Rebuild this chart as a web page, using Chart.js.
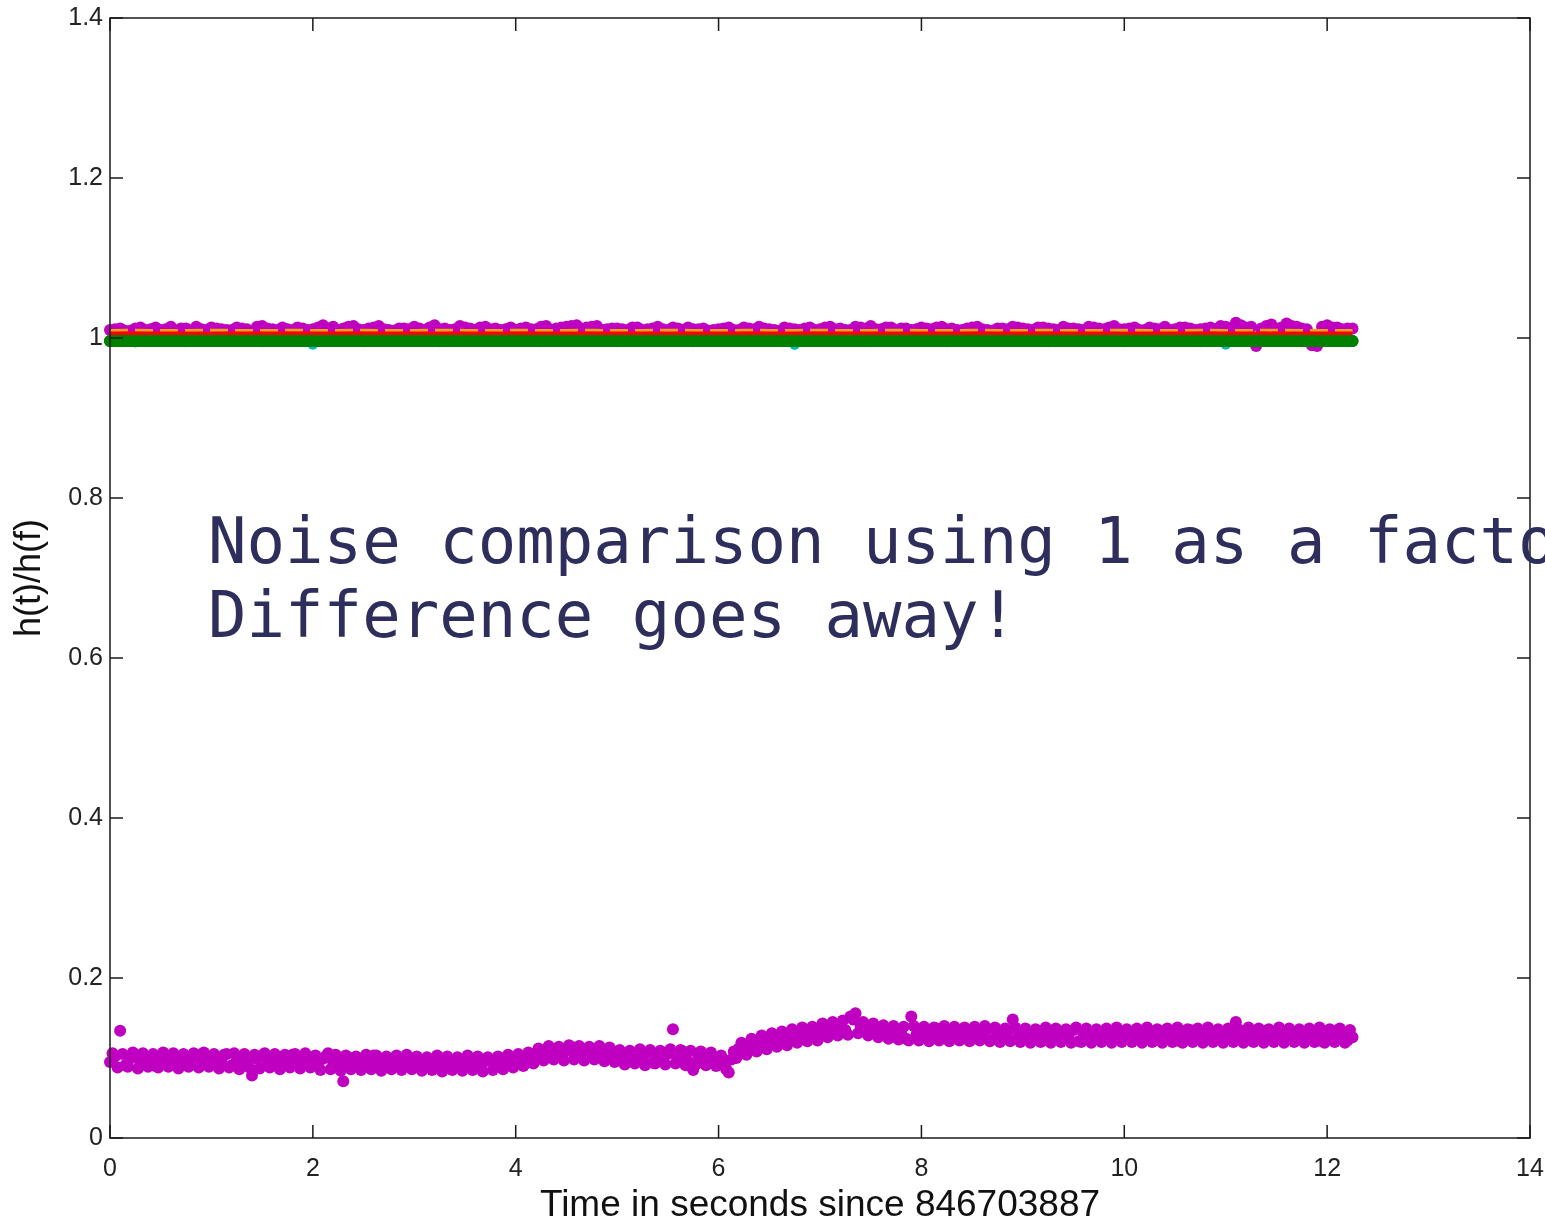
<!DOCTYPE html>
<html>
<head>
<meta charset="utf-8">
<script src="https://cdn.jsdelivr.net/npm/chart.js@4.4.1/dist/chart.umd.min.js"></script>
<style>
body{margin:0;background:#fff}
#wrap{width:1545px;height:1222px;position:relative}
</style>
</head>
<body>
<div id="wrap"><canvas id="c"></canvas></div>
<script>
// sample spacing (seconds) for each group of series
const DT_LOW=0.05, DT_TOP=0.1, DT_FLAT=0.25;

// lower magenta band h(t)/h(f), one row per second (samples at 0, 0.05, ...)
const lowMag=[
0.095,0.102,0.134,0.091,0.099,0.104,0.093,0.097,0.101,0.090,0.098,0.103,0.094,0.096,0.100,0.092,0.099,0.104,0.095,0.097,
0.101,0.093,0.098,0.105,0.091,0.097,0.100,0.094,0.078,0.099,0.103,0.092,0.096,0.101,0.090,0.098,0.104,0.093,0.095,0.100,
0.097,0.091,0.099,0.106,0.094,0.096,0.071,0.092,0.100,0.095,0.090,0.098,0.103,0.093,0.096,0.089,0.099,0.094,0.091,0.097,
0.093,0.088,0.096,0.091,0.099,0.087,0.094,0.092,0.089,0.097,0.093,0.090,0.095,0.088,0.096,0.098,0.091,0.099,0.094,0.100,
0.096,0.101,0.093,0.104,0.099,0.108,0.110,0.103,0.112,0.106,0.109,0.114,0.105,0.110,0.102,0.108,0.111,0.104,0.099,0.106,
0.101,0.097,0.104,0.095,0.103,0.099,0.107,0.094,0.102,0.098,0.105,0.136,0.100,0.108,0.096,0.085,0.103,0.099,0.094,0.101,
0.097,0.091,0.082,0.108,0.112,0.109,0.116,0.113,0.120,0.117,0.122,0.119,0.125,0.121,0.127,0.124,0.129,0.126,0.131,0.128,
0.133,0.130,0.136,0.132,0.138,0.135,0.152,0.156,0.140,0.134,0.137,0.131,0.136,0.128,0.133,0.126,0.131,0.124,0.152,0.129,
0.134,0.128,0.132,0.137,0.127,0.131,0.135,0.126,0.130,0.133,0.125,0.132,0.128,0.136,0.123,0.130,0.127,0.133,0.148,0.126,
0.131,0.124,0.129,0.134,0.122,0.128,0.132,0.125,0.130,0.127,0.135,0.121,0.129,0.133,0.126,0.131,0.124,0.128,0.134,0.127,
0.130,0.123,0.128,0.133,0.125,0.131,0.122,0.129,0.134,0.126,0.130,0.121,0.128,0.135,0.127,0.132,0.124,0.129,0.133,0.125,
0.131,0.126,0.145,0.128,0.133,0.122,0.130,0.127,0.134,0.124,0.129,0.132,0.125,0.131,0.123,0.128,0.133,0.126,0.130,0.121,
0.127,0.134,0.124,0.129,0.122,0.126
];
// in-between samples of the same band (0.025, 0.075, ...), these fill its upper and lower edges
const lowMag2=[
0.106,0.088,0.105,0.089,0.107,0.087,0.106,0.089,0.105,0.088,0.107,0.089,0.106,0.087,0.105,0.089,0.106,0.088,0.107,0.089,
0.105,0.087,0.104,0.088,0.106,0.086,0.105,0.088,0.104,0.087,0.106,0.088,0.105,0.086,0.104,0.088,0.105,0.087,0.106,0.088,
0.103,0.085,0.102,0.086,0.104,0.084,0.103,0.086,0.102,0.085,0.104,0.086,0.103,0.084,0.102,0.086,0.103,0.085,0.104,0.086,
0.102,0.084,0.101,0.085,0.103,0.083,0.102,0.085,0.101,0.084,0.103,0.085,0.102,0.083,0.101,0.085,0.102,0.086,0.104,0.088,
0.105,0.090,0.107,0.093,0.112,0.097,0.115,0.098,0.114,0.097,0.116,0.098,0.115,0.097,0.114,0.098,0.115,0.096,0.113,0.095,
0.110,0.092,0.109,0.093,0.111,0.091,0.110,0.093,0.109,0.092,0.111,0.093,0.110,0.091,0.109,0.092,0.108,0.091,0.107,0.090,
0.103,0.086,0.098,0.100,0.119,0.104,0.124,0.108,0.128,0.111,0.131,0.114,0.133,0.116,0.136,0.119,0.138,0.121,0.139,0.122,
0.143,0.126,0.145,0.128,0.147,0.129,0.148,0.131,0.145,0.128,0.143,0.126,0.141,0.124,0.140,0.123,0.139,0.122,0.140,0.122,
0.139,0.121,0.138,0.122,0.140,0.121,0.139,0.122,0.138,0.121,0.139,0.122,0.140,0.121,0.138,0.120,0.137,0.121,0.138,0.120,
0.137,0.119,0.136,0.120,0.138,0.119,0.137,0.120,0.136,0.119,0.138,0.120,0.137,0.119,0.136,0.120,0.137,0.119,0.138,0.120,
0.136,0.120,0.137,0.119,0.138,0.120,0.136,0.119,0.137,0.120,0.138,0.119,0.136,0.120,0.137,0.119,0.138,0.120,0.136,0.119,
0.137,0.120,0.136,0.119,0.138,0.120,0.137,0.119,0.136,0.120,0.138,0.119,0.137,0.120,0.136,0.119,0.137,0.120,0.138,0.119,
0.136,0.120,0.137,0.119,0.135
];

// upper magenta band (0, 0.1, ...) and its in-between samples (0.05, 0.15, ...)
const topMag=[
1.010,1.012,1.009,1.013,1.011,1.010,1.014,1.012,1.009,1.011,
1.013,1.011,1.010,1.012,1.009,1.015,1.011,1.013,1.010,1.012,
1.011,1.016,1.014,1.012,1.015,1.010,1.013,1.011,1.009,1.012,
1.014,1.010,1.016,1.012,1.011,1.013,1.010,1.014,1.012,1.011,
1.010,1.013,1.011,1.015,1.012,1.014,1.016,1.013,1.015,1.011,
1.012,1.010,1.013,1.011,1.014,1.010,1.012,1.013,1.011,1.009,
1.011,1.013,1.010,1.012,1.014,1.011,1.009,1.012,1.010,1.013,
1.011,1.014,1.012,1.010,1.013,1.015,1.011,1.013,1.012,1.010,
1.013,1.011,1.014,1.012,1.010,1.013,1.011,1.009,1.012,1.014,
1.012,1.010,1.013,1.011,1.014,1.012,1.010,1.013,1.011,1.015,
1.011,1.013,1.010,1.012,1.014,1.011,1.013,1.010,1.012,1.011,
1.014,1.019,1.013,0.990,1.015,1.012,1.018,1.014,1.011,0.990,
1.016,1.013,1.012
];
const topMag2=[
1.011,1.009,1.012,1.010,1.013,1.011,1.009,1.012,1.014,1.010,
1.012,1.010,1.013,1.011,1.014,1.012,1.010,1.011,1.013,1.010,
1.013,1.012,1.010,1.014,1.011,1.012,1.015,1.010,1.012,1.011,
1.012,1.013,1.011,1.010,1.015,1.012,1.013,1.011,1.010,1.013,
1.012,1.011,1.014,1.010,1.013,1.015,1.012,1.014,1.010,1.012,
1.011,1.013,1.010,1.012,1.011,1.013,1.010,1.011,1.012,1.010,
1.012,1.010,1.013,1.011,1.012,1.010,1.013,1.011,1.012,1.010,
1.013,1.011,1.010,1.014,1.012,1.011,1.013,1.010,1.012,1.011,
1.012,1.013,1.011,1.010,1.012,1.014,1.010,1.012,1.011,1.013,
1.011,1.013,1.012,1.010,1.012,1.011,1.014,1.012,1.013,1.011,
1.012,1.010,1.013,1.011,1.010,1.013,1.012,1.011,1.013,1.015,
1.012,1.016,1.014,1.012,1.017,1.013,1.015,1.012,0.991,1.014,
1.013,1.011,1.012
];

// flat series near 1 (every 0.25 s)
const orangeV=[
1.0095,1.0096,1.0094,1.0095,1.0097,1.0095,1.0094,1.0096,1.0095,1.0095,
1.0096,1.0094,1.0095,1.0097,1.0095,1.0094,1.0096,1.0095,1.0095,1.0096,
1.0094,1.0095,1.0097,1.0095,1.0094,1.0096,1.0095,1.0095,1.0096,1.0094,
1.0095,1.0097,1.0095,1.0094,1.0096,1.0095,1.0095,1.0096,1.0094,1.0095,
1.0097,1.0095,1.0094,1.0096,1.0095,1.0095,1.0096,1.0094,1.0095,1.0095
];
const redV=[
1.0056,1.0055,1.0057,1.0056,1.0054,1.0056,1.0057,1.0055,1.0056,1.0056,
1.0055,1.0057,1.0056,1.0054,1.0056,1.0057,1.0055,1.0056,1.0056,1.0055,
1.0057,1.0056,1.0054,1.0056,1.0057,1.0055,1.0056,1.0056,1.0055,1.0057,
1.0056,1.0054,1.0056,1.0057,1.0055,1.0056,1.0056,1.0055,1.0057,1.0056,
1.0054,1.0056,1.0057,1.0055,1.0056,1.0056,1.0055,1.0057,1.0056,1.0056
];
const greenV=[
0.9963,0.9964,0.9962,0.9963,0.9963,0.9964,0.9962,0.9963,0.9963,0.9964,
0.9962,0.9963,0.9963,0.9964,0.9962,0.9963,0.9963,0.9964,0.9962,0.9963,
0.9963,0.9964,0.9962,0.9963,0.9963,0.9964,0.9962,0.9963,0.9963,0.9964,
0.9962,0.9963,0.9963,0.9964,0.9962,0.9963,0.9963,0.9964,0.9962,0.9963,
0.9963,0.9964,0.9962,0.9963,0.9963,0.9964,0.9962,0.9963,0.9963,0.9963
];
const cyanV=[
0.9950,0.9945,0.9952,0.9948,0.9950,0.9953,0.9947,0.9950,0.9915,0.9951,
0.9948,0.9950,0.9953,0.9946,0.9950,0.9949,0.9952,0.9947,0.9950,0.9951,
0.9948,0.9950,0.9953,0.9946,0.9950,0.9949,0.9952,0.9912,0.9950,0.9951,
0.9948,0.9950,0.9953,0.9946,0.9950,0.9949,0.9952,0.9947,0.9950,0.9951,
0.9948,0.9950,0.9953,0.9946,0.9915,0.9949,0.9952,0.9947,0.9950,0.9950
];

const X_MIN=0,X_MAX=14,X_STEP=2;
const Y_MIN=0,Y_MAX=1.4,Y_STEP=0.2;
const X_TITLE="Time in seconds since 846703887";
const Y_TITLE="h(t)/h(f)";
const NOTE=["Noise comparison using 1 as a factor","Difference goes away!"];

const pts=(arr,dt,x0=0)=>arr.map((v,i)=>({x:+(x0+i*dt).toFixed(3),y:v}));

const MAG="#c000c0",GRN="#008000",RED="#ff0000",ORG="#e8a317",CYN="#00bcbc";
const FONT="'Liberation Sans', Arial, sans-serif";

// frame with inward tick marks (octave style)
const framePlugin={id:"frame",afterDraw(ch){
  const c=ch.ctx,a=ch.chartArea,sx=ch.scales.x,sy=ch.scales.y,L=13;
  c.save();c.strokeStyle="#1a1a1a";c.lineWidth=1.5;
  c.strokeRect(a.left,a.top,a.right-a.left,a.bottom-a.top);
  c.beginPath();
  sx.ticks.forEach(t=>{const p=sx.getPixelForValue(t.value);c.moveTo(p,a.bottom);c.lineTo(p,a.bottom-L);c.moveTo(p,a.top);c.lineTo(p,a.top+L)});
  sy.ticks.forEach(t=>{const p=sy.getPixelForValue(t.value);c.moveTo(a.left,p);c.lineTo(a.left+L,p);c.moveTo(a.right,p);c.lineTo(a.right-L,p)});
  c.stroke();c.restore();
}};

// overlaid note text
const notePlugin={id:"note",afterDraw(ch){
  const c=ch.ctx,a=ch.chartArea;
  c.save();c.fillStyle="#2e2e5c";c.font="64px 'DejaVu Sans Mono', monospace";c.textBaseline="alphabetic";
  NOTE.forEach((s,i)=>c.fillText(s,a.left+98,563+i*74));
  c.restore();
}};

const dot=(label,data,color,r)=>({label,data,pointRadius:r,backgroundColor:color,pointBorderWidth:0,clip:10});

new Chart(document.getElementById("c"),{
  type:"scatter",
  data:{datasets:[
    {label:"green",data:pts(greenV,DT_FLAT),showLine:true,borderColor:GRN,borderWidth:12,borderCapStyle:"round",pointRadius:6,backgroundColor:GRN,pointBorderWidth:0,clip:10},
    {label:"red",data:pts(redV,DT_FLAT),showLine:true,borderColor:RED,borderWidth:4,pointRadius:0,clip:10},
    {label:"orange",data:pts(orangeV,DT_FLAT),showLine:true,borderColor:ORG,borderWidth:3,borderDash:[18,7],pointRadius:0,clip:10},
    dot("magenta top",pts(topMag,DT_TOP),MAG,6),
    dot("magenta top b",pts(topMag2,DT_TOP,0.05),MAG,6),
    dot("cyan",pts(cyanV,DT_FLAT),CYN,5),
    dot("magenta low",pts(lowMag,DT_LOW),MAG,6),
    dot("magenta low b",pts(lowMag2,DT_LOW,0.025),MAG,6)
  ]},
  options:{
    responsive:true,maintainAspectRatio:false,animation:false,
    layout:{padding:{top:18,right:15,left:0,bottom:0}},
    plugins:{legend:{display:false},tooltip:{enabled:false}},
    scales:{
      x:{type:"linear",min:X_MIN,max:X_MAX,
        ticks:{stepSize:X_STEP,color:"#222",font:{family:FONT,size:25},padding:16,maxRotation:0},
        grid:{display:false,tickLength:0},border:{display:false},
        title:{display:true,text:X_TITLE,color:"#111",font:{family:FONT,size:37},padding:{top:0,bottom:-6}},
        afterFit:s=>{s.height=84;s.paddingLeft=0;s.paddingRight=0}},
      y:{min:Y_MIN,max:Y_MAX,
        ticks:{stepSize:Y_STEP,color:"#222",font:{family:FONT,size:25},padding:7,callback:v=>String(+v.toFixed(1))},
        grid:{display:false,tickLength:0},border:{display:false},
        title:{display:true,text:Y_TITLE,color:"#111",font:{family:FONT,size:36},padding:{top:8,bottom:0}},
        afterFit:s=>{s.width=110;s.paddingTop=0;s.paddingBottom=0}}
    }
  },
  plugins:[framePlugin,notePlugin]
});
</script>
</body>
</html>
